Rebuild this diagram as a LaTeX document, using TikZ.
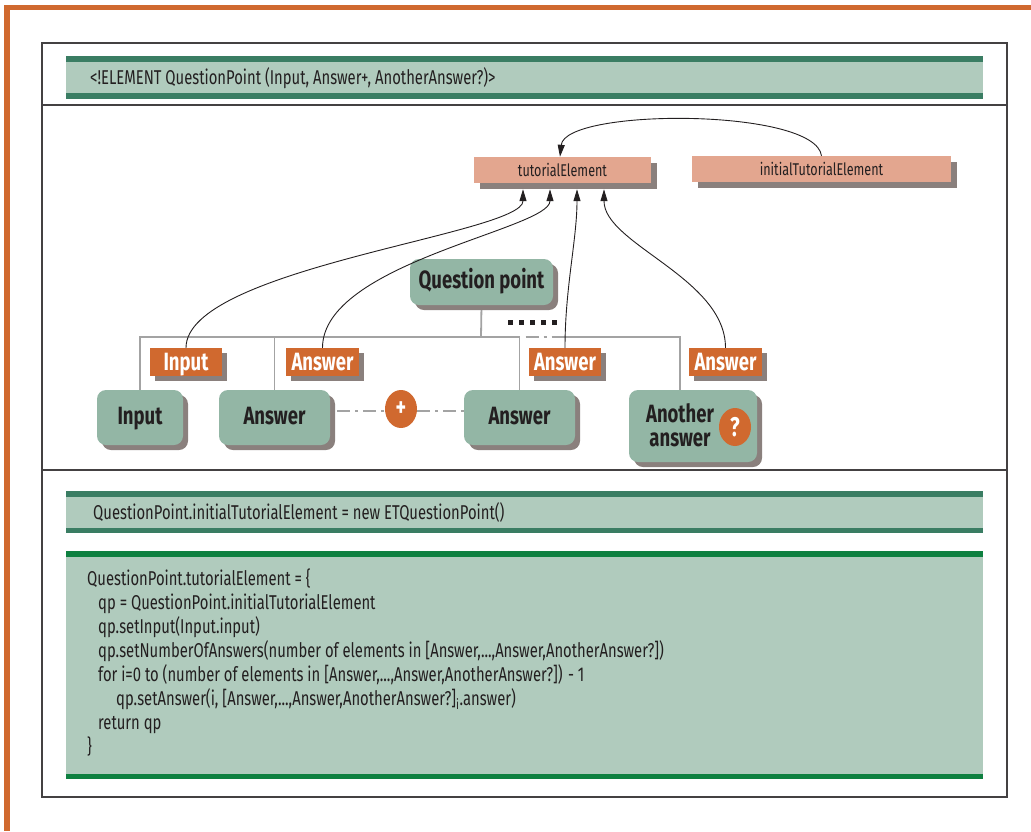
\documentclass[tikz,border=0pt]{standalone}
\usepackage{fontspec}
\setmainfont[FakeStretch=0.74]{Fira Sans}
\usetikzlibrary{arrows.meta,shapes.geometric,shadows,calc,backgrounds}
\definecolor{rust}{HTML}{D0692F}
\definecolor{salmon}{HTML}{E3A68F}
\definecolor{sage}{HTML}{93B6A5}
\definecolor{barlight}{HTML}{B0CBBD}
\definecolor{bardark}{HTML}{3A7D63}
\definecolor{barbright}{HTML}{0E8040}
\definecolor{shade}{HTML}{8A807D}
\definecolor{treegray}{HTML}{A3A3A3}
\definecolor{ink}{HTML}{231F20}
\tikzset{
  shd/.style={drop shadow={shadow xshift=#1, shadow yshift=-#1, fill=shade, opacity=1}},
  codetext/.style={text=ink, inner sep=0pt, font=\fontsize{20}{24}\selectfont},
  elem/.style={rectangle, fill=salmon, minimum height=26pt, inner sep=0pt, text=ink,
    font=\fontsize{17}{18}\selectfont, shd=6pt},
  part/.style={rectangle, rounded corners=9pt, fill=sage, inner sep=0pt, text=ink,
    text height=16pt, text depth=3pt, font=\bfseries\fontsize{25}{24}\selectfont, shd=5pt},
  tag/.style={rectangle, fill=rust, minimum height=28pt, inner sep=0pt, text=white,
    text height=20pt, text depth=4pt, font=\bfseries\fontsize{25}{24}\selectfont, shd=5pt},
  occur/.style={ellipse, fill=rust, minimum width=32pt, minimum height=38pt, inner sep=0pt,
    text=white, font=\bfseries\fontsize{27}{28}\selectfont},
  tree/.style={draw=treegray, line width=1.8pt},
  seq/.style={draw=treegray, line width=1.8pt, dash pattern=on 13pt off 5pt on 3pt off 5pt},
  rel/.style={draw=ink, line width=0.9pt, -{Triangle[length=12pt,width=7pt]}},
}

\begin{document}
\begin{tikzpicture}[x=1pt,y=-1pt]
\useasboundingbox (0,0) rectangle (1031,831);
% frame
\fill[rust] (4,5) rectangle (1031,10);
\fill[rust] (4,5) rectangle (9.5,831);
\draw[ink!85, line width=1.4pt] (42,43) rectangle (1007,797);
\draw[ink!85, line width=1.4pt] (42,105) -- (1007,105);
\draw[ink!85, line width=1.4pt] (42,470) -- (1007,470);

% DTD line
\fill[barlight] (66,56) rectangle (983,99);
\fill[bardark] (66,56) rectangle (983,62);
\fill[bardark] (66,93) rectangle (983,99);
\node[codetext, anchor=west] (dtd) at (90,78) {<!ELEMENT QuestionPoint (Input, Answer+, AnotherAnswer?)>};

% element classes
\node[elem, minimum width=177pt] (tut) at (562.5,170) {tutorialElement};
\node[elem, minimum width=259pt] (init) at (821.5,169) {initialTutorialElement};

% content model
\node[part, minimum width=143pt, minimum height=46pt] (qp) at (481.5,282) {Question point};
\node[part, minimum width=86pt, minimum height=55pt] (bInput) at (140,417.5) {Input};
\node[part, minimum width=111pt, minimum height=55pt] (bAns1) at (274.5,417.5) {Answer};
\node[part, minimum width=111pt, minimum height=55pt] (bAns2) at (519.5,417.5) {Answer};
\node[part, minimum width=128pt, minimum height=72pt] (bAnother) at (693,426) {};
\node[codetext, font=\bfseries\fontsize{25}{24}\selectfont, align=center] (bAnotherTxt) at (680,425) {Another\\answer};
\node[occur] (plus) at (401,409) {+};
\node[occur] (qmark) at (735,427) {?};

\node[tag, minimum width=72pt] (lInput) at (186,362) {Input};
\node[tag, minimum width=73pt] (lAns1) at (322.5,362) {Answer};
\node[tag, minimum width=72pt] (lAns2) at (565,362) {Answer};
\node[tag, minimum width=73pt] (lAns3) at (725.5,362) {Answer};

\begin{scope}[on background layer]
\coordinate (fork) at (481,337);
\draw[tree] (qp.south) -- (fork);
\draw[tree] (bInput.north) |- (fork) -| (bAns2.north);
\draw[tree] (bAns1.north) -- (bAns1.north |- fork);
\draw[seq] ($(bAns2.north |- fork)+(6,0)$) -- ++(30,0) coordinate (seqEnd);
\draw[tree] (seqEnd) -| ($(bAnother.north)+(-13,0)$);
\end{scope}
\draw[ink, line width=5pt, dash pattern=on 5pt off 6pt] (508,322.5) -- (557,322.5);

\draw[seq] ($(bAns1.east |- plus)+(7,2)$) -- ($(plus.west)+(0,2)$);
\draw[seq] ($(plus.east)+(0,2)$) -- ($(bAns2.west |- plus)+(0,2)$);

% links to the element classes
\draw[rel] (lInput.north) .. controls +(0,-80) and +(0,45) .. ($(tut.south)+(-39.5,6)$);
\draw[rel] (lAns1.north) .. controls +(0,-85) and +(0,40) .. ($(tut.south)+(-12.5,6)$);
\draw[rel] (lAns2.north) .. controls +(0,-60) and +(0,50) .. ($(tut.south)+(14.5,6)$);
\draw[rel] (lAns3.north) .. controls +(0,-70) and +(0,55) .. ($(tut.south)+(41.5,6)$);
\draw[rel] (init.north) .. controls +(-6,-48) and +(5,-49) .. ($(tut.north)+(-2.5,0)$);

% initial element
\fill[barlight] (66,491) rectangle (983,533);
\fill[bardark] (66,491) rectangle (983,496.5);
\fill[bardark] (66,527.5) rectangle (983,533);
\node[codetext, anchor=west] (initLine) at (93,512) {QuestionPoint.initialTutorialElement = new ETQuestionPoint()};

% tutorial element body
\fill[barlight] (66,551) rectangle (983,779);
\fill[barbright] (66,551) rectangle (983,556.5);
\fill[barbright] (66,773.5) rectangle (983,779);
\node[codetext, anchor=north west, align=left] (body) at (87,569) {%
QuestionPoint.tutorialElement = \{\\
\hspace*{11pt}qp = QuestionPoint.initialTutorialElement\\
\hspace*{11pt}qp.setInput(Input.input)\\
\hspace*{11pt}qp.setNumberOfAnswers(number of elements in [Answer,...,Answer,AnotherAnswer?])\\
\hspace*{11pt}for i=0 to (number of elements in [Answer,...,Answer,AnotherAnswer?]) - 1\\
\hspace*{29pt}qp.setAnswer(i, [Answer,...,Answer,AnotherAnswer?]\textsubscript{i}.answer)\\
\hspace*{11pt}return qp\\
\}};
\end{tikzpicture}
\end{document}
